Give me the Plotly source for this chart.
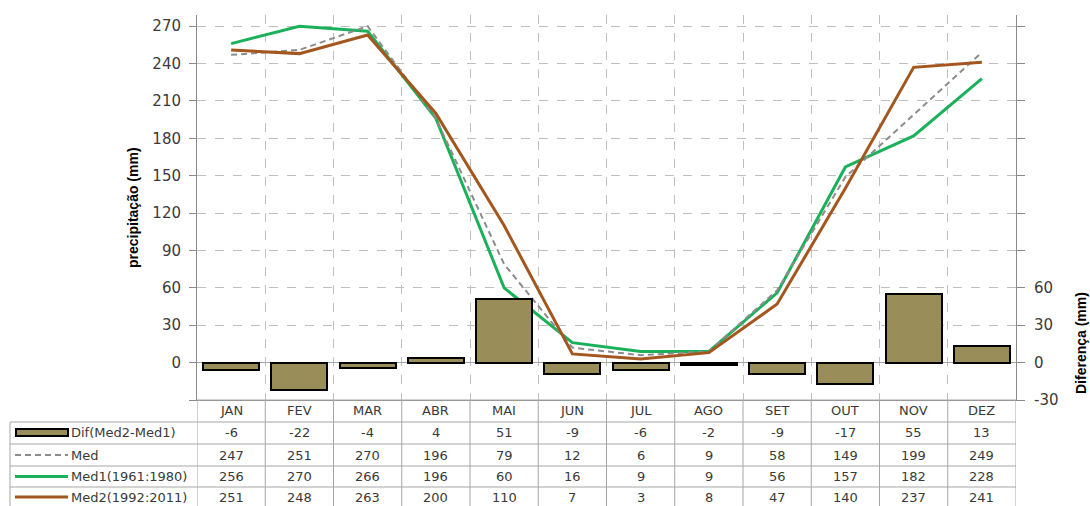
import plotly.graph_objects as go

# Monthly precipitation (mm) and difference between the two normals
months = ["JAN", "FEV", "MAR", "ABR", "MAI", "JUN", "JUL", "AGO", "SET", "OUT", "NOV", "DEZ"]
dif = [-6, -22, -4, 4, 51, -9, -6, -2, -9, -17, 55, 13]
med = [247, 251, 270, 196, 79, 12, 6, 9, 58, 149, 199, 249]
med1 = [256, 270, 266, 196, 60, 16, 9, 9, 56, 157, 182, 228]
med2 = [251, 248, 263, 200, 110, 7, 3, 8, 47, 140, 237, 241]

row_names = ["Dif(Med2-Med1)", "Med", "Med1(1961:1980)", "Med2(1992:2011)"]
row_values = [dif, med, med1, med2]

y_ticks = list(range(-30, 271, 30))
left_ticktext = ["" if v < 0 else str(v) for v in y_ticks]
right_ticktext = [str(v) if v <= 60 else "" for v in y_ticks]

W, H = 1090, 506
L, R, T, B = 197, 1016, 15, 400  # plot-area edges in pixels

C_BAR = "#998D59"
C_GREEN = "#1BB05A"
C_BROWN = "#A3561E"
C_MED = "#8C8C8C"
C_GRID = "#BFBFBF"
C_AXIS = "#8A8A8A"
C_TXT = "#3A3A3A"
FONT = "DejaVu Sans"
MED_DASH = "6px,4px"


def px_x(p):
    return (p - L) / (R - L)


def px_y(p):
    return (B - p) / (B - T)


x = list(range(len(months)))
fig = go.Figure()

fig.add_trace(go.Bar(
    x=x, y=dif, yaxis="y2", width=0.82,
    marker=dict(color=C_BAR, line=dict(color="black", width=2)),
))
fig.add_trace(go.Scatter(x=x, y=med1, mode="lines",
                         line=dict(color=C_GREEN, width=3)))
fig.add_trace(go.Scatter(x=x, y=med, mode="lines",
                         line=dict(color=C_MED, width=2, dash=MED_DASH)))
fig.add_trace(go.Scatter(x=x, y=med2, mode="lines",
                         line=dict(color=C_BROWN, width=3)))

yr = [-30, 279]
fig.update_layout(
    width=W, height=H,
    margin=dict(l=L, r=W - R, t=T, b=H - B, pad=0),
    paper_bgcolor="white", plot_bgcolor="white",
    showlegend=False, bargap=0,
    font=dict(family=FONT, color=C_TXT),
    xaxis=dict(
        range=[-0.5, 11.5], tickvals=[i + 0.5 for i in range(11)],
        showticklabels=False, ticks="", showgrid=True, gridcolor=C_GRID,
        griddash="dash", gridwidth=1, zeroline=False,
        showline=True, linecolor=C_AXIS, linewidth=1, mirror=False,
    ),
    yaxis=dict(
        range=yr, tickvals=y_ticks, ticktext=left_ticktext,
        ticks="outside", ticklen=7, tickcolor=C_AXIS, ticklabelstandoff=5,
        tickfont=dict(family=FONT, size=15, color=C_TXT),
        showgrid=True, gridcolor=C_GRID, griddash="dash", gridwidth=1,
        zeroline=True, zerolinecolor="#A6A6A6", zerolinewidth=1,
        showline=True, linecolor=C_AXIS, linewidth=1,
    ),
    yaxis2=dict(
        range=yr, overlaying="y", side="right", tickvals=y_ticks,
        ticktext=right_ticktext, ticks="outside", ticklen=8, tickcolor=C_AXIS,
        ticklabelstandoff=6,
        tickfont=dict(family=FONT, size=15, color=C_TXT),
        showgrid=False, zeroline=False,
        showline=True, linecolor=C_AXIS, linewidth=1,
    ),
)

shapes = []
annotations = []

# Data table below the plot
row_edges = [400, 422, 444, 466, 487]
line_style = dict(color="#A6A6A6", width=1)
for i, yy in enumerate(row_edges):
    x0 = L if i == 0 else 10
    shapes.append(dict(type="line", xref="paper", yref="paper",
                       x0=px_x(x0), x1=px_x(R), y0=px_y(yy), y1=px_y(yy),
                       line=line_style))
shapes.append(dict(type="line", xref="paper", yref="paper",
                   x0=px_x(10), x1=px_x(10), y0=px_y(422), y1=px_y(H),
                   line=line_style))
for xb in [-0.5] + [i + 0.5 for i in range(12)]:
    shapes.append(dict(type="line", xref="x", yref="paper",
                       x0=xb, x1=xb, y0=px_y(400), y1=px_y(H),
                       line=line_style))

row_centers = [433, 455, 476.5, 497]
header_center = 411
tfont = dict(family=FONT, size=13, color=C_TXT)

for i, m in enumerate(months):
    annotations.append(dict(x=i, y=px_y(header_center), xref="x", yref="paper",
                            text=m, showarrow=False, xanchor="center",
                            yanchor="middle", font=tfont))
for r, (name, vals) in enumerate(zip(row_names, row_values)):
    yc = px_y(row_centers[r])
    for i, v in enumerate(vals):
        annotations.append(dict(x=i, y=yc, xref="x", yref="paper",
                                text=str(v), showarrow=False, xanchor="center",
                                yanchor="middle", font=tfont))
    annotations.append(dict(x=px_x(69), y=yc, xref="paper", yref="paper",
                            text=name, showarrow=False, xanchor="left",
                            yanchor="middle", font=tfont))

# Legend keys inside the table
shapes.append(dict(type="rect", xref="paper", yref="paper",
                   x0=px_x(16), x1=px_x(68), y0=px_y(429), y1=px_y(436),
                   fillcolor=C_BAR, line=dict(color="black", width=2)))
shapes.append(dict(type="line", xref="paper", yref="paper",
                   x0=px_x(15), x1=px_x(68), y0=px_y(455), y1=px_y(455),
                   line=dict(color=C_MED, width=2, dash=MED_DASH)))
shapes.append(dict(type="line", xref="paper", yref="paper",
                   x0=px_x(15), x1=px_x(68), y0=px_y(476.5), y1=px_y(476.5),
                   line=dict(color=C_GREEN, width=3)))
shapes.append(dict(type="line", xref="paper", yref="paper",
                   x0=px_x(15), x1=px_x(68), y0=px_y(497), y1=px_y(497),
                   line=dict(color=C_BROWN, width=3)))

# Axis titles
title_font = dict(family="Liberation Sans", size=14, color="black")
annotations.append(dict(x=px_x(133), y=px_y(208), xref="paper", yref="paper",
                        text="<b>precipitação (mm)</b>", textangle=-90,
                        showarrow=False, xanchor="center", yanchor="middle",
                        font=title_font))
annotations.append(dict(x=px_x(1081), y=px_y(343), xref="paper", yref="paper",
                        text="<b>Diferença (mm)</b>", textangle=-90,
                        showarrow=False, xanchor="center", yanchor="middle",
                        font=title_font))

fig.update_layout(shapes=shapes, annotations=annotations)
fig.write_html("out.html")
